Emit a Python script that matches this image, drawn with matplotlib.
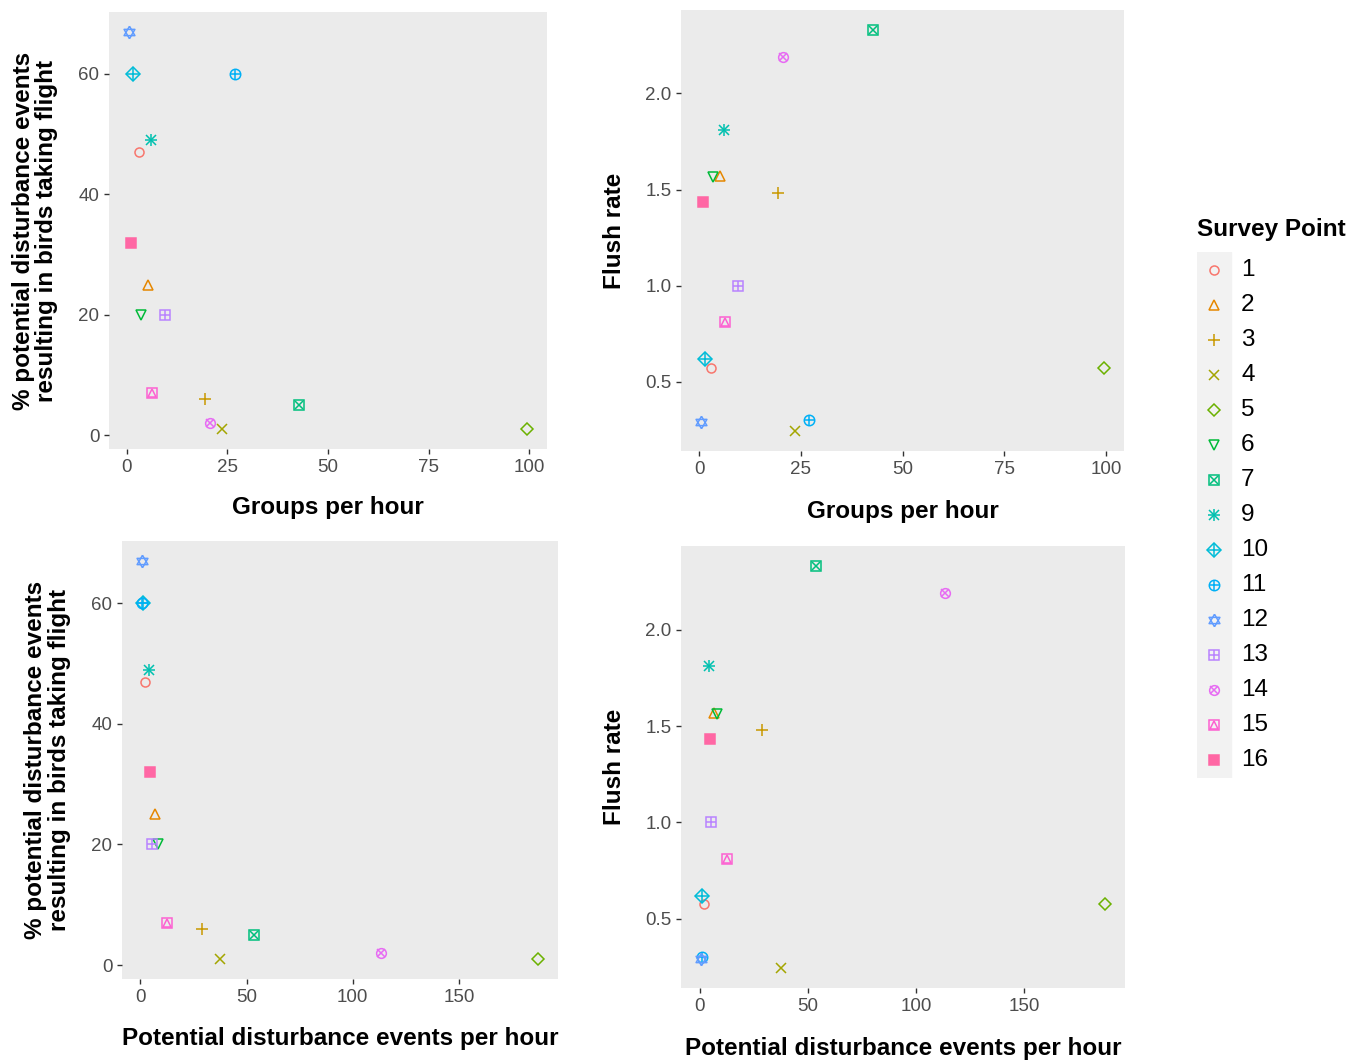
import matplotlib
matplotlib.use("Agg")
import matplotlib.pyplot as plt
from matplotlib.patches import Rectangle

plt.rcParams['font.family'] = ['Liberation Sans', 'DejaVu Sans']

# survey points and their measurements
points = ['1', '2', '3', '4', '5', '6', '7', '9', '10', '11', '12', '13', '14', '15', '16']
groups_per_hour = [3.0, 5.2, 19.4, 23.6, 99.5, 3.4, 42.7, 6.0, 1.5, 26.9, 0.5, 9.5, 20.6, 6.3, 1.0]
events_per_hour = [2.0, 6.8, 28.8, 37.5, 187.3, 8.2, 53.7, 4.2, 1.2, 1.0, 0.7, 5.3, 113.4, 12.6, 4.6]
pct_flight = [47, 25, 6, 1, 1, 20, 5, 49, 60, 60, 67, 20, 2, 7, 32]
flush_rate = [0.575, 1.57, 1.48, 0.245, 0.575, 1.565, 2.33, 1.81, 0.62, 0.30, 0.29, 1.0, 2.19, 0.81, 1.435]

colours = ['#F8766D', '#E58700', '#C99800', '#A3A500', '#6BB100', '#00BA38', '#00BF7D',
           '#00C0AF', '#00BCD8', '#00B0F6', '#619CFF', '#B983FF', '#E76BF3', '#FD61D1', '#FF67A4']

# equilateral triangles centred on their centroid (star of David uses both)
tri_up = [(0, 1), (-0.866, -0.5), (0.866, -0.5), (0, 1)]
tri_dn = [(0, -1), (-0.866, 0.5), (0.866, 0.5), (0, -1)]

# R style point shapes 1..15 built from matplotlib markers: (marker, size, filled)
shapes = [
    [('o', 6.5, False)],
    [('^', 7.5, False)],
    [('+', 9, False)],
    [('x', 7, False)],
    [('D', 6.5, False)],
    [('v', 7.5, False)],
    [('s', 7, False), ('x', 5.5, False)],
    [('+', 9, False), ('x', 6.5, False)],
    [('D', 7, False), ('+', 8.5, False)],
    [('o', 7.5, False), ('+', 7.5, False)],
    [(tri_up, 9, False), (tri_dn, 9, False)],
    [('s', 7, False), ('+', 7, False)],
    [('o', 7, False), ('x', 5.5, False)],
    [('s', 7, False), ('^', 5.5, False)],
    [('s', 6.5, True)],
]

TICK_COL = '#4D4D4D'
FS = 17.5
W, H = 1363, 1062


def draw_point(ax, x, y, i):
    for m, ms, filled in shapes[i]:
        ax.plot([x], [y], linestyle='none', marker=m, ms=ms, mew=1.1,
                mec=colours[i], mfc=colours[i] if filled else 'none', clip_on=False)


def panel(rect, xs, ys, xticks, yticks, ytick_labels, xlabel, ylabel, xl_y, yl_x):
    l, t, r, b = rect
    ax = fig.add_axes([l / W, 1 - b / H, (r - l) / W, (b - t) / H])
    ax.set_facecolor('#EBEBEB')
    for s in ax.spines.values():
        s.set_visible(False)
    for i in range(len(points)):
        draw_point(ax, xs[i], ys[i], i)
    xr = max(xs) - min(xs)
    yr = max(ys) - min(ys)
    ax.set_xlim(min(xs) - 0.05 * xr, max(xs) + 0.05 * xr)
    ax.set_ylim(min(ys) - 0.05 * yr, max(ys) + 0.05 * yr)
    ax.set_xticks(xticks)
    ax.set_yticks(yticks)
    ax.set_yticklabels(ytick_labels)
    ax.tick_params(colors='#333333', labelcolor=TICK_COL, labelsize=13.5, length=3.5, width=1)
    ax.set_xlabel(xlabel, fontsize=FS, fontweight='bold', va='center')
    ax.set_ylabel(ylabel, fontsize=FS, fontweight='bold', va='center', linespacing=1.05)
    ax.xaxis.set_label_coords(0.5, xl_y)
    ax.yaxis.set_label_coords(yl_x, 0.5)
    return ax


fig = plt.figure(figsize=(W / 100, H / 100), dpi=100)
fig.patch.set_facecolor('white')

pct_label = '% potential disturbance events\nresulting in birds taking flight'

panel((109, 12, 547, 449), groups_per_hour, pct_flight, [0, 25, 50, 75, 100],
      [0, 20, 40, 60], ['0', '20', '40', '60'], 'Groups per hour', pct_label, -0.135, -0.169)
panel((681, 10, 1124, 451), groups_per_hour, flush_rate, [0, 25, 50, 75, 100],
      [0.5, 1.0, 1.5, 2.0], ['0.5', '1.0', '1.5', '2.0'], 'Groups per hour', 'Flush rate', -0.138, -0.149)
panel((122, 541, 558, 979), events_per_hour, pct_flight, [0, 50, 100, 150],
      [0, 20, 40, 60], ['0', '20', '40', '60'], 'Potential disturbance events per hour', pct_label, -0.135, -0.17)
panel((681, 546, 1125, 988), events_per_hour, flush_rate, [0, 50, 100, 150],
      [0.5, 1.0, 1.5, 2.0], ['0.5', '1.0', '1.5', '2.0'], 'Potential disturbance events per hour', 'Flush rate', -0.136, -0.149)

# legend drawn in its own axes, one row per survey point
lg = fig.add_axes([1197 / W, 1 - 778 / H, 163 / W, 526 / H])
lg.set_xlim(0, 1)
lg.set_ylim(len(points) - 0.5, -0.5)
lg.axis('off')
lg.add_patch(Rectangle((0, -0.5), 0.209, len(points), color='#F2F2F2', zorder=0))
for i, p in enumerate(points):
    draw_point(lg, 0.104, i, i)
    lg.text(0.27, i, p, fontsize=FS, va='center', ha='left', color='black')
lg.text(0.0, -1.15, 'Survey Point', fontsize=FS, fontweight='bold', va='center', ha='left')

fig.savefig('out.png', dpi=100)
